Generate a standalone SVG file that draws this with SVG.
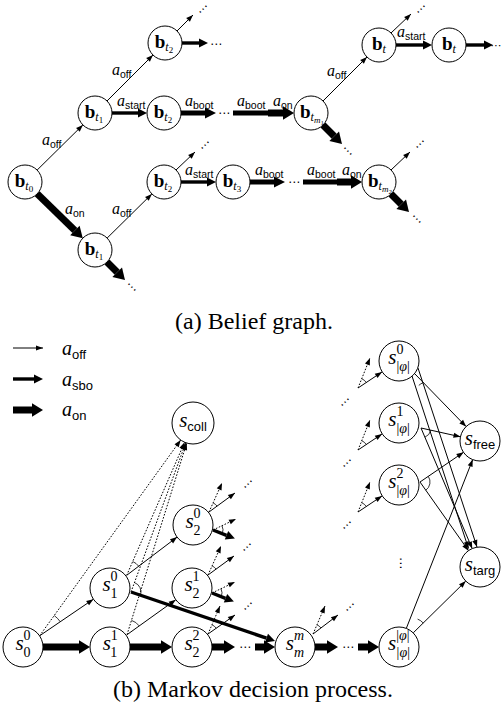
<svg xmlns="http://www.w3.org/2000/svg" width="503" height="713" viewBox="0 0 503 713">
<defs>
  <!-- arrowheads: thin one is anchored at its tip, the heavy ones at their base -->
  <marker id="ah" markerUnits="userSpaceOnUse" orient="auto" refX="0" refY="0" markerWidth="8" markerHeight="6" overflow="visible">
    <path d="M-7,-2.6 L0,0 L-7,2.6 z" fill="#000"/>
  </marker>
  <marker id="hm" markerUnits="userSpaceOnUse" orient="auto" refX="0" refY="0" markerWidth="10" markerHeight="10" overflow="visible">
    <path d="M0,-4.6 L9,0 L0,4.6 z" fill="#000"/>
  </marker>
  <marker id="hb" markerUnits="userSpaceOnUse" orient="auto" refX="0" refY="0" markerWidth="12" markerHeight="12" overflow="visible">
    <path d="M0,-5.6 L11,0 L0,5.6 z" fill="#000"/>
  </marker>
  <marker id="ho" markerUnits="userSpaceOnUse" orient="auto" refX="0" refY="0" markerWidth="12" markerHeight="14" overflow="visible">
    <path d="M0,-6.8 L11,0 L0,6.8 z" fill="#000"/>
  </marker>
</defs>
<style>
  .e { fill: none; stroke: #000; stroke-linecap: butt; }
  .thin { stroke-width: 1; marker-end: url(#ah); }
  .dot { stroke-width: 1; stroke-dasharray: 1.6 1.6; marker-end: url(#ah); }
  .mid { stroke-width: 3.4; marker-end: url(#hm); }
  .boot { stroke-width: 5; marker-end: url(#hb); }
  .bar { stroke-width: 5; }
  .on { stroke-width: 7; marker-end: url(#ho); }
  .sbo { stroke-width: 3.4; marker-end: url(#hm); }
  .arc { fill: none; stroke: #000; stroke-width: 0.8; }
  .node circle { fill: #fff; stroke: #000; stroke-width: 1; }
  text { fill: #000; }
  .nl { font-family: "Liberation Serif", serif; text-anchor: middle; }
  .bv { font-weight: bold; font-size: 19px; }
  .ti { font-style: italic; font-size: 12px; }
  .ts { font-size: 9px; }
  .tsi { font-style: italic; font-size: 9px; }
  .tss { font-size: 7px; }
  .si { font-style: italic; font-size: 21px; }
  .sx { font-size: 14px; }
  .sxi { font-style: italic; font-size: 14px; }
  .sf { font-family: "Liberation Sans", sans-serif; font-size: 13px; }
  .al { font-family: "Liberation Serif", serif; font-style: italic; font-size: 16px; }
  .as { font-family: "Liberation Sans", sans-serif; font-style: normal; font-size: 10.5px; }
  .lg { font-family: "Liberation Serif", serif; font-style: italic; font-size: 20px; }
  .lgs { font-family: "Liberation Sans", sans-serif; font-style: normal; font-size: 13px; }
  .dots { font-family: "DejaVu Sans", sans-serif; font-size: 12px; text-anchor: middle; }
  .cap { font-family: "Liberation Serif", serif; font-size: 24px; }
</style>

<!-- ===================== (a) belief graph ===================== -->
<g id="belief-connectors">
  <path class="e thin" d="M37.1,170.1 L82.9,124.9"/>
  <path class="e on" d="M37.2,193.8 L74.9,230.5"/>
  <path class="e thin" d="M107,101 L153,55"/>
  <path class="e thin" d="M177,31 L193,15"/>
  <path class="e mid" d="M182,43 L199,43"/>
  <path class="e mid" d="M112,113 L138,113"/>
  <path class="e boot" d="M181,113 L205,113"/>
  <path class="e bar" d="M233,113 L268,113"/>
  <path class="e on" d="M268,113 L283,113"/>
  <path class="e thin" d="M323,101 L367,57"/>
  <path class="e thin" d="M391,33 L411,14"/>
  <path class="e mid" d="M396,45 L423,45"/>
  <path class="e mid" d="M466,45 L484,45"/>
  <path class="e on" d="M323,125 L334.2,136.2"/>
  <path class="e thin" d="M176,170 L195,152"/>
  <path class="e mid" d="M181,182 L207,182"/>
  <path class="e boot" d="M250,182 L274,182"/>
  <path class="e bar" d="M303,182 L337,182"/>
  <path class="e on" d="M337,182 L351,182"/>
  <path class="e thin" d="M391,170 L410,152"/>
  <path class="e on" d="M391,194 L401.2,204.2"/>
  <path class="e thin" d="M107.1,238.1 L151.9,193.9"/>
  <path class="e on" d="M107,262 L117.2,272.2"/>

  <!-- continuation dots -->
  <text class="dots" x="203" y="13" transform="rotate(-45 203 9)">⋯</text>
  <text class="dots" x="216" y="48">⋯</text>
  <text class="dots" x="224" y="117">⋯</text>
  <text class="dots" x="421" y="13" transform="rotate(-45 421 9)">⋯</text>
  <text class="dots" x="496" y="49" style="font-size:11px">⋯</text>
  <text class="dots" x="348" y="155" transform="rotate(45 348 151)">⋯</text>
  <text class="dots" x="205" y="149" transform="rotate(-45 205 145)">⋯</text>
  <text class="dots" x="294" y="186">⋯</text>
  <text class="dots" x="420" y="148" transform="rotate(-45 420 144)">⋯</text>
  <text class="dots" x="417" y="223" transform="rotate(45 417 219)">⋯</text>
  <text class="dots" x="132" y="291" transform="rotate(45 132 287)">⋯</text>

  <!-- action labels -->
  <text class="al" x="42" y="145">a<tspan class="as" dy="3">off</tspan></text>
  <text class="al" x="112" y="75">a<tspan class="as" dy="3">off</tspan></text>
  <text class="al" x="327" y="76">a<tspan class="as" dy="3">off</tspan></text>
  <text class="al" x="112" y="214">a<tspan class="as" dy="3">off</tspan></text>
  <text class="al" x="65" y="214">a<tspan class="as" dy="3">on</tspan></text>
  <text class="al" x="273" y="106">a<tspan class="as" dy="3">on</tspan></text>
  <text class="al" x="342" y="175">a<tspan class="as" dy="3">on</tspan></text>
  <text class="al" x="117" y="106">a<tspan class="as" dy="3">start</tspan></text>
  <text class="al" x="397" y="37">a<tspan class="as" dy="3">start</tspan></text>
  <text class="al" x="185" y="175">a<tspan class="as" dy="3">start</tspan></text>
  <text class="al" x="185" y="106">a<tspan class="as" dy="3">boot</tspan></text>
  <text class="al" x="237" y="106">a<tspan class="as" dy="3">boot</tspan></text>
  <text class="al" x="255" y="175">a<tspan class="as" dy="3">boot</tspan></text>
  <text class="al" x="307" y="175">a<tspan class="as" dy="3">boot</tspan></text>
</g>

<g id="b-t0" class="node"><circle cx="25" cy="182" r="17"/><text class="nl" x="24" y="187"><tspan class="bv">b</tspan><tspan class="ti" dy="3">t</tspan><tspan class="ts" dy="2">0</tspan></text></g>
<g id="b-t1-up" class="node"><circle cx="95" cy="113" r="17"/><text class="nl" x="94" y="118"><tspan class="bv">b</tspan><tspan class="ti" dy="3">t</tspan><tspan class="ts" dy="2">1</tspan></text></g>
<g id="b-t2-top" class="node"><circle cx="165" cy="43" r="17"/><text class="nl" x="164" y="48"><tspan class="bv">b</tspan><tspan class="ti" dy="3">t</tspan><tspan class="ts" dy="2">2</tspan></text></g>
<g id="b-t2-mid" class="node"><circle cx="164" cy="113" r="17"/><text class="nl" x="163" y="118"><tspan class="bv">b</tspan><tspan class="ti" dy="3">t</tspan><tspan class="ts" dy="2">2</tspan></text></g>
<g id="b-t2-low" class="node"><circle cx="164" cy="182" r="17"/><text class="nl" x="163" y="187"><tspan class="bv">b</tspan><tspan class="ti" dy="3">t</tspan><tspan class="ts" dy="2">2</tspan></text></g>
<g id="b-t3" class="node"><circle cx="233" cy="182" r="17"/><text class="nl" x="232" y="187"><tspan class="bv">b</tspan><tspan class="ti" dy="3">t</tspan><tspan class="ts" dy="2">3</tspan></text></g>
<g id="b-t1-down" class="node"><circle cx="95" cy="250" r="17"/><text class="nl" x="94" y="255"><tspan class="bv">b</tspan><tspan class="ti" dy="3">t</tspan><tspan class="ts" dy="2">1</tspan></text></g>
<g id="b-tm1" class="node"><circle cx="311" cy="113" r="17"/><text class="nl" x="312" y="118"><tspan class="bv">b</tspan><tspan class="ti" dy="3">t</tspan><tspan class="tsi" dy="2">m</tspan><tspan class="tss" dy="1.5">1</tspan></text></g>
<g id="b-tm2" class="node"><circle cx="379" cy="182" r="17"/><text class="nl" x="380" y="187"><tspan class="bv">b</tspan><tspan class="ti" dy="3">t</tspan><tspan class="tsi" dy="2">m</tspan><tspan class="tss" dy="1.5">2</tspan></text></g>
<g id="b-t-a" class="node"><circle cx="379" cy="45" r="17"/><text class="nl" x="379" y="50"><tspan class="bv">b</tspan><tspan class="ti" dy="3">t</tspan></text></g>
<g id="b-t-b" class="node"><circle cx="449" cy="45" r="17"/><text class="nl" x="449" y="50"><tspan class="bv">b</tspan><tspan class="ti" dy="3">t</tspan></text></g>

<text class="cap" x="175" y="329">(a) Belief graph.</text>

<!-- ===================== (b) Markov decision process ===================== -->
<g id="legend">
  <path class="e thin" d="M13,348 L43,348"/>
  <path class="e mid" d="M13,379 L34,379"/>
  <path class="e on" d="M13,410 L32,410"/>
  <text class="lg" x="62" y="355">a<tspan class="lgs" dy="4">off</tspan></text>
  <text class="lg" x="62" y="386">a<tspan class="lgs" dy="4">sbo</tspan></text>
  <text class="lg" x="62" y="416">a<tspan class="lgs" dy="4">on</tspan></text>
</g>

<g id="mdp-connectors">
  <!-- s00 branches -->
  <path class="e thin" d="M39.6,635.8 L93.4,599.2"/>
  <path class="e dot" d="M39.6,635.8 L180.7,440"/>
  <path class="arc" d="M60.3,621.8 A25,25 0 0 0 54.2,615.5"/>
  <path class="e on" d="M43,647 L79,647"/>
  <!-- s10 branches -->
  <path class="e thin" d="M126.7,575.3 L177.1,537.1"/>
  <path class="e dot" d="M126.7,575.3 L184.6,442.3"/>
  <path class="arc" d="M138.7,566.2 A15,15 0 0 0 132.7,561.5"/>
  <path class="e sbo" d="M131,592 L266.5,638.1"/>
  <path class="e dot" d="M131,592 L185.8,442.7"/>
  <path class="arc" d="M140.5,595.2 A10,10 0 0 0 134.5,582.6"/>
  <!-- s11 branches -->
  <path class="e thin" d="M127,634.7 L175.8,599.7"/>
  <path class="e dot" d="M127,634.7 L186.7,443.1"/>
  <path class="arc" d="M139.2,625.9 A15,15 0 0 0 131.5,620.4"/>
  <path class="e on" d="M130,647 L161,647"/>
  <!-- s20 stubs -->
  <path class="e thin" d="M209,512 L235,493"/>
  <path class="e dot" d="M209,512 L222,483"/>
  <path class="arc" d="M217.1,506.1 A10,10 0 0 0 213.1,502.9"/>
  <path class="e sbo" d="M213,530 L226.5,535.3"/>
  <path class="e dot" d="M213,530 L236,519"/>
  <path class="arc" d="M222.3,533.7 A10,10 0 0 0 222,525.7"/>
  <!-- s21 stubs -->
  <path class="e thin" d="M208,575 L234,556"/>
  <path class="e dot" d="M208,575 L221,546"/>
  <path class="arc" d="M216.1,569.1 A10,10 0 0 0 212.1,565.9"/>
  <path class="e sbo" d="M212,593 L225.5,598.3"/>
  <path class="e dot" d="M212,593 L235,582"/>
  <path class="arc" d="M221.3,596.7 A10,10 0 0 0 221,588.7"/>
  <!-- s22 -->
  <path class="e thin" d="M208,634 L235,615"/>
  <path class="e dot" d="M208,634 L220,606"/>
  <path class="arc" d="M216.2,628.2 A10,10 0 0 0 212,624.8"/>
  <path class="e on" d="M212,647 L224,647"/>
  <path class="e on" d="M255,647 L264,647"/>
  <!-- smm -->
  <path class="e thin" d="M313,634 L338,615"/>
  <path class="e dot" d="M313,634 L325,606"/>
  <path class="arc" d="M321,628 A10,10 0 0 0 317,624.8"/>
  <path class="e on" d="M315,647 L327,647"/>
  <path class="e on" d="M358,647 L368,647"/>
  <!-- incoming stubs of the |phi| column -->
  <path class="e thin" d="M358,388 L382,372"/>
  <path class="e dot" d="M358,388 L370,358"/>
  <path class="arc" d="M366.3,382.5 A10,10 0 0 0 361.7,378.7"/>
  <path class="e thin" d="M358,450 L382,434"/>
  <path class="e dot" d="M358,450 L370,420"/>
  <path class="arc" d="M366.3,444.5 A10,10 0 0 0 361.7,440.7"/>
  <path class="e thin" d="M358,512 L382,496"/>
  <path class="e dot" d="M358,512 L370,482"/>
  <path class="arc" d="M366.3,506.5 A10,10 0 0 0 361.7,502.7"/>
  <!-- |phi| column to absorbing states -->
  <path class="e thin" d="M415,374 L466.1,426.6"/>
  <path class="e thin" d="M412,376 L468.5,548.5"/>
  <path class="e thin" d="M418,368 L477,547"/>
  <path class="arc" d="M423.4,382.6 A12,12 0 0 0 418.8,385.4"/>
  <path class="e thin" d="M421,428 L460.5,436.8"/>
  <path class="e thin" d="M421,428 L472.2,548.6"/>
  <path class="arc" d="M430.8,430.2 A10,10 0 0 1 424.9,437.2"/>
  <path class="e thin" d="M420,482 L463.5,452.3"/>
  <path class="e thin" d="M420,482 L468.5,550.7"/>
  <path class="arc" d="M428.3,476.4 A10,10 0 0 1 425.8,490.2"/>
  <path class="e thin" d="M406.3,628.4 L472.7,459.6"/>
  <path class="e thin" d="M413.2,632.9 L465.8,581.1"/>
  <path class="arc" d="M417.6,619.1 A14,14 0 0 1 423.2,623"/>

  <!-- continuation dots -->
  <text class="dots" x="245" y="651">⋯</text>
  <text class="dots" x="348" y="651">⋯</text>
  <text class="dots" x="248" y="488" transform="rotate(-45 248 484)">⋯</text>
  <text class="dots" x="247" y="551" transform="rotate(-45 247 547)">⋯</text>
  <text class="dots" x="248" y="610" transform="rotate(-45 248 606)">⋯</text>
  <text class="dots" x="350" y="611" transform="rotate(-45 350 607)">⋯</text>
  <text class="dots" x="345" y="406" transform="rotate(-45 345 402)">⋯</text>
  <text class="dots" x="347" y="467" transform="rotate(-45 347 463)">⋯</text>
  <text class="dots" x="347" y="529" transform="rotate(-45 347 525)">⋯</text>
  <text class="dots" x="401" y="567" transform="rotate(90 401 563)">⋯</text>
</g>

<g id="s-coll" class="node"><circle cx="193" cy="423" r="21"/><text class="nl" x="193" y="427"><tspan class="si">s</tspan><tspan class="sf" dy="4">coll</tspan></text></g>
<g id="s-0-0" class="node"><circle cx="23" cy="647" r="20"/><text class="nl" x="23" y="650"><tspan class="si">s</tspan><tspan class="sx" dy="-10">0</tspan><tspan class="sx" dx="-7" dy="17">0</tspan></text></g>
<g id="s-1-0" class="node"><circle cx="110" cy="588" r="20"/><text class="nl" x="110" y="591"><tspan class="si">s</tspan><tspan class="sx" dy="-10">0</tspan><tspan class="sx" dx="-7" dy="17">1</tspan></text></g>
<g id="s-1-1" class="node"><circle cx="110" cy="647" r="20"/><text class="nl" x="110" y="650"><tspan class="si">s</tspan><tspan class="sx" dy="-10">1</tspan><tspan class="sx" dx="-7" dy="17">1</tspan></text></g>
<g id="s-2-0" class="node"><circle cx="193" cy="525" r="20"/><text class="nl" x="193" y="528"><tspan class="si">s</tspan><tspan class="sx" dy="-10">0</tspan><tspan class="sx" dx="-7" dy="17">2</tspan></text></g>
<g id="s-2-1" class="node"><circle cx="192" cy="588" r="20"/><text class="nl" x="192" y="591"><tspan class="si">s</tspan><tspan class="sx" dy="-10">1</tspan><tspan class="sx" dx="-7" dy="17">2</tspan></text></g>
<g id="s-2-2" class="node"><circle cx="192" cy="647" r="20"/><text class="nl" x="192" y="650"><tspan class="si">s</tspan><tspan class="sx" dy="-10">2</tspan><tspan class="sx" dx="-7" dy="17">2</tspan></text></g>
<g id="s-m-m" class="node"><circle cx="295" cy="647" r="20"/><text class="nl" x="295" y="650"><tspan class="si">s</tspan><tspan class="sxi" dy="-10">m</tspan><tspan class="sxi" dx="-10" dy="17">m</tspan></text></g>
<g id="s-phi-0" class="node"><circle cx="399" cy="361" r="20"/><text class="nl" x="399" y="364"><tspan class="si">s</tspan><tspan class="sx" dy="-10">0</tspan><tspan class="sx" dx="-7" dy="17">|</tspan><tspan class="sxi">φ</tspan><tspan class="sx">|</tspan></text></g>
<g id="s-phi-1" class="node"><circle cx="399" cy="423" r="20"/><text class="nl" x="399" y="426"><tspan class="si">s</tspan><tspan class="sx" dy="-10">1</tspan><tspan class="sx" dx="-7" dy="17">|</tspan><tspan class="sxi">φ</tspan><tspan class="sx">|</tspan></text></g>
<g id="s-phi-2" class="node"><circle cx="399" cy="485" r="20"/><text class="nl" x="399" y="488"><tspan class="si">s</tspan><tspan class="sx" dy="-10">2</tspan><tspan class="sx" dx="-7" dy="17">|</tspan><tspan class="sxi">φ</tspan><tspan class="sx">|</tspan></text></g>
<g id="s-phi-phi" class="node"><circle cx="399" cy="647" r="20"/><text class="nl" x="399" y="650"><tspan class="si">s</tspan><tspan class="sx" dy="-10">|</tspan><tspan class="sxi">φ</tspan><tspan class="sx">|</tspan><tspan class="sx" dx="-13" dy="17">|</tspan><tspan class="sxi">φ</tspan><tspan class="sx">|</tspan></text></g>
<g id="s-free" class="node"><circle cx="480" cy="441" r="20"/><text class="nl" x="480" y="445"><tspan class="si">s</tspan><tspan class="sf" dy="4">free</tspan></text></g>
<g id="s-targ" class="node"><circle cx="480" cy="567" r="20"/><text class="nl" x="480" y="571"><tspan class="si">s</tspan><tspan class="sf" dy="4">targ</tspan></text></g>

<text class="cap" x="113" y="697">(b) Markov decision process.</text>
</svg>
